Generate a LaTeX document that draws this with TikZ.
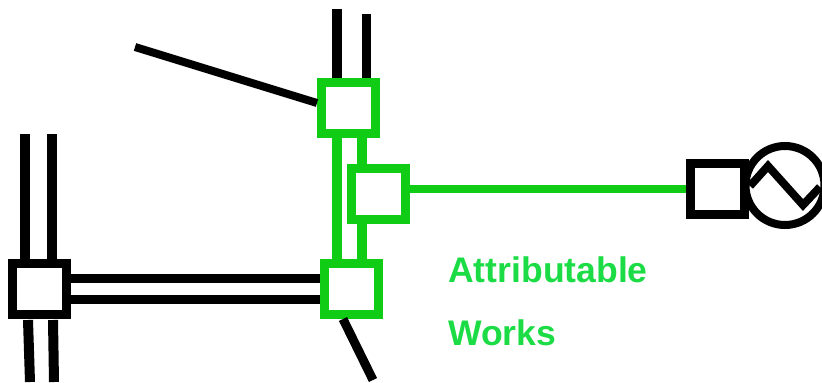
\documentclass[tikz,border=0pt]{standalone}
\usepackage{fontspec}
\setmainfont{Liberation Sans}
\usepackage{tikz}
\usetikzlibrary{positioning}
\definecolor{worksgreen}{RGB}{16,204,20}
\definecolor{textgreen}{RGB}{28,220,70}
\tikzset{
  busbox/.style={draw=black,fill=white,line width=9bp,minimum width=54bp,minimum height=51bp,inner sep=0pt},
  workbox/.style={busbox,draw=worksgreen},
  blackline/.style={black,line width=10bp},
  greenline/.style={worksgreen,line width=9.5bp},
  worklabel/.style={text=textgreen,font=\bfseries\fontsize{35.7}{36}\selectfont,anchor=base west,inner sep=0pt}
}
\begin{document}
\begin{tikzpicture}
\useasboundingbox (0bp,0bp) rectangle (822bp,-383bp);

\node (BoxTop) at (348.5bp,-108bp)[workbox] {};
\node (BoxMid) at (378.5bp,-193.5bp)[workbox] {};
\node (BoxLow) at (351bp,-289bp)[workbox] {};
\node (BoxLeft) at (39.5bp,-289bp)[busbox] {};
\node (Gen) at (785bp,-185.5bp)[draw,circle,line width=8bp,minimum size=79bp,inner sep=0pt] {};
\node (BoxGen) at (717.5bp,-189bp)[busbox] {};

\coordinate (TopA) at (337bp,-9bp);
\coordinate (TopB) at (366bp,-14bp);
\coordinate (Feeder) at (135bp,-47bp);
\coordinate (FeederEnd) at (317bp,-103bp);
\coordinate (LowStart) at (343bp,-319bp);
\coordinate (LowEnd) at (373bp,-380bp);
\coordinate (LeftA) at (25bp,-134bp);
\coordinate (LeftB) at (52bp,-134bp);
\coordinate (DownA) at (30bp,-382bp);
\coordinate (DownB) at (54bp,-382bp);
\coordinate (UpA) at (28bp,-320bp);
\coordinate (UpB) at (53bp,-320bp);
\coordinate (BusA) at (337bp,-278bp);
\coordinate (BusB) at (337bp,-299bp);
\coordinate (TieB) at (362bp,-108bp);
\coordinate (GenFeed) at (0bp,-189bp);
\coordinate (WaveA) at (750bp,-186bp);
\coordinate (WaveB) at (768bp,-166bp);
\coordinate (WaveC) at (803bp,-205bp);
\coordinate (WaveD) at (820bp,-187bp);

\draw [blackline,line width=9bp] (TopB) -- (TopB |- BoxTop.north);
\draw [blackline] (TopA) -- (TopA |- BoxTop.north);
\draw [blackline,line width=8bp] (Feeder) -- (FeederEnd);
\draw [blackline,line width=9bp] (LowStart) -- (LowEnd);
\draw [blackline] (LeftA) -- (LeftA |- BoxLeft.north);
\draw [blackline] (LeftB) -- (LeftB |- BoxLeft.north);
\draw [blackline] (DownA) -- (UpA);
\draw [blackline] (DownB) -- (UpB);
\draw [blackline,line width=9bp] (BoxLeft.east |- BusA) -- (BoxLow.west |- BusA);
\draw [blackline,line width=9bp] (BoxLeft.east |- BusB) -- (BoxLow.west |- BusB);
\draw [greenline] (BusA |- BoxTop.south) -- (BusA |- BoxLow.north);
\draw [greenline] (TieB |- BoxTop.south) -- (TieB |- BoxMid.north);
\draw [greenline] (TieB |- BoxMid.south) -- (TieB |- BoxLow.north);
\draw [greenline,line width=8bp] (BoxMid.east |- GenFeed) -- (BoxGen.west |- GenFeed);
\draw [line width=8bp] (WaveA) -- (WaveB) -- (WaveC) -- (WaveD);

\node (LabelA) at (448bp,-282bp)[worklabel] {Attributable};
\node (LabelB) at (448bp,-345bp)[worklabel] {Works};
\end{tikzpicture}
\end{document}
